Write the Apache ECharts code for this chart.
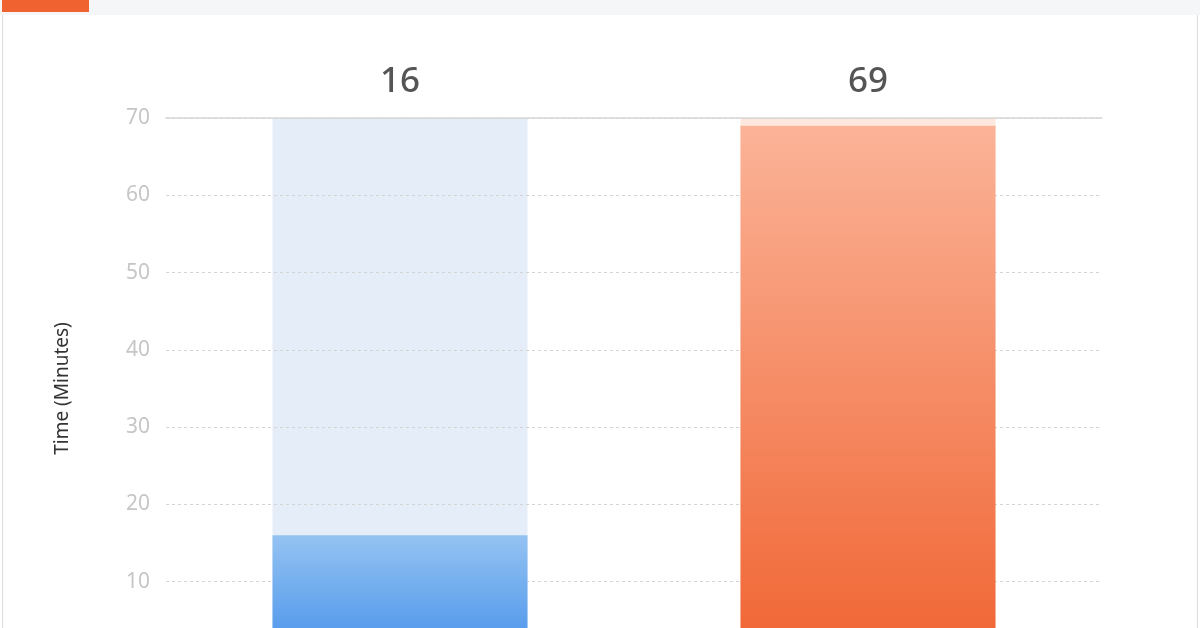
<!DOCTYPE html>
<html>
<head>
<meta charset="utf-8">
<script src="https://cdn.jsdelivr.net/npm/echarts@6/dist/echarts.min.js"></script>
<style>
  html, body { margin: 0; padding: 0; background: #fff; overflow: hidden; }
  #main { width: 1200px; height: 700px; }
</style>
</head>
<body>
<div id="main"></div>
<script>
// data
var categories = ["A", "B"];
var values = [16, 69];
var yTicks = [0, 10, 20, 30, 40, 50, 60, 70];
var yMax = 70;

// per-bar colours
var barTop = ["#94c3f2", "#fbb398"];
var barBottom = ["#4690ea", "#f06432"];
var bgColors = ["#e5eef8", "#fde8e0"];

// the chart is taller than the window, the 0 line falls below the visible part
var myChart = echarts.init(document.getElementById("main"));

myChart.setOption({
  animation: false,
  textStyle: { fontFamily: "Noto Sans" },
  graphic: [
    // page header strip + tab, card borders
    { type: "rect", shape: { x: 0, y: 0, width: 1200, height: 15 }, style: { fill: "#f5f6f8" }, z: 10 },
    { type: "rect", shape: { x: 2, y: 0, width: 87, height: 12 }, style: { fill: "#f0622f" }, z: 11 },
    { type: "rect", shape: { x: 2, y: 15, width: 1, height: 700 }, style: { fill: "#dedede" }, z: 10 },
    { type: "rect", shape: { x: 1197, y: 15, width: 1, height: 700 }, style: { fill: "#dedede" }, z: 10 }
  ],
  grid: { left: 166, right: 98, top: 118, bottom: 41 },
  xAxis: {
    type: "category",
    data: categories,
    position: "top",
    axisLine: { show: true, onZero: false, lineStyle: { color: "#d6d6d6", width: 1.5 } },
    axisTick: { show: false },
    axisLabel: { show: false },
    z: 3
  },
  yAxis: {
    type: "value",
    min: yTicks[0],
    max: yMax,
    interval: 10,
    name: "Time (Minutes)",
    nameLocation: "middle",
    nameRotate: 90,
    nameGap: 94,
    nameTextStyle: { color: "#333", fontSize: 19 },
    axisLine: { show: false },
    axisTick: { show: false },
    axisLabel: { color: "#c6c6c6", fontSize: 21, margin: 16 },
    splitLine: { lineStyle: { color: "#d4d4d4", type: [3, 3] } },
    z: 3
  },
  series: [
    {
      // light full-height background column with the value label above it
      name: "bg",
      type: "bar",
      barWidth: 255,
      barGap: "-100%",
      z: 2,
      silent: true,
      data: categories.map(function (c, i) {
        return { value: yMax, itemStyle: { color: bgColors[i] } };
      }),
      label: {
        show: true,
        position: "top",
        distance: 18,
        color: "#555",
        fontSize: 35,
        fontWeight: 500,
        formatter: function (p) { return values[p.dataIndex]; }
      }
    },
    {
      name: "time",
      type: "bar",
      barWidth: 255,
      barGap: "-100%",
      z: 4,
      data: values.map(function (v, i) {
        return {
          value: v,
          itemStyle: {
            color: new echarts.graphic.LinearGradient(0, 0, 0, 1, [
              { offset: 0, color: barTop[i] },
              { offset: 1, color: barBottom[i] }
            ])
          }
        };
      })
    }
  ]
});
</script>
</body>
</html>
